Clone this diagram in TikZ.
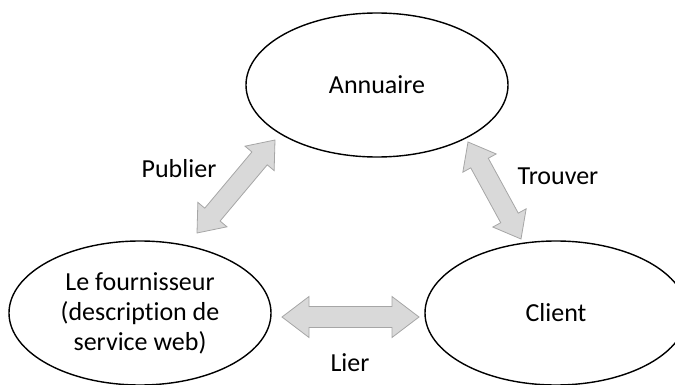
\documentclass[tikz,border=0pt]{standalone}
\usepackage{fontspec}
\setmainfont{Carlito}[Ligatures=NoCommon]
\usetikzlibrary{calc,shapes.geometric}
\definecolor{arrowfill}{HTML}{D9D9D9}
\definecolor{arrowedge}{HTML}{A6A6A6}
\tikzset{
  oval/.style={ellipse, draw=black, line width=1.4pt, minimum width=262pt,
    minimum height=144pt, inner sep=0pt, align=center,
    font=\fontsize{26}{30}\selectfont},
  tag/.style={font=\fontsize{26}{30}\selectfont, inner sep=0pt},
  blockarrow/.style={fill=arrowfill, draw=arrowedge, line width=0.8pt, line join=miter},
}
% double-headed block arrow: from, to, head length, half head width, half shaft width
\newcommand\dblblockarrow[5]{%
  \draw[blockarrow] (#1)
   -- ($(#1)!#3!(#2)!#4!90:(#2)$)
   -- ($(#1)!#3!(#2)!#5!90:(#2)$)
   -- ($(#2)!#3!(#1)!#5!-90:(#1)$)
   -- ($(#2)!#3!(#1)!#4!-90:(#1)$)
   -- (#2)
   -- ($(#2)!#3!(#1)!#4!90:(#1)$)
   -- ($(#2)!#3!(#1)!#5!90:(#1)$)
   -- ($(#1)!#3!(#2)!#5!-90:(#2)$)
   -- ($(#1)!#3!(#2)!#4!-90:(#2)$)
   -- cycle;}
\begin{document}
\begin{tikzpicture}[x=1pt, y=-1pt]
  \useasboundingbox (0,0) rectangle (675,385);

  % the three parties
  \node[oval] (annuaire) at (377,85) {Annuaire};
  \node[oval] (fournisseur) at (140,313) {Le fournisseur\\(description de\\service web)};
  \node[oval] (client) at (556,313) {Client};

  % arrow end points
  \coordinate (pubA) at (197,233);
  \coordinate (pubB) at (275,140);
  \coordinate (trvA) at (468,142);
  \coordinate (trvB) at (521,239);
  \coordinate (lierA) at (282,317);
  \coordinate (lierB) at (419,317);

  \dblblockarrow{pubA}{pubB}{24pt}{19pt}{10pt}
  \dblblockarrow{trvA}{trvB}{24pt}{19pt}{10pt}
  \dblblockarrow{lierA}{lierB}{27pt}{20.5pt}{10.5pt}

  % relation labels
  \node[tag] (publier) at (179,169) {Publier};
  \node[tag] (trouver) at (558,176) {Trouver};
  \node[tag] (lier) at (350,363) {Lier};
\end{tikzpicture}
\end{document}
